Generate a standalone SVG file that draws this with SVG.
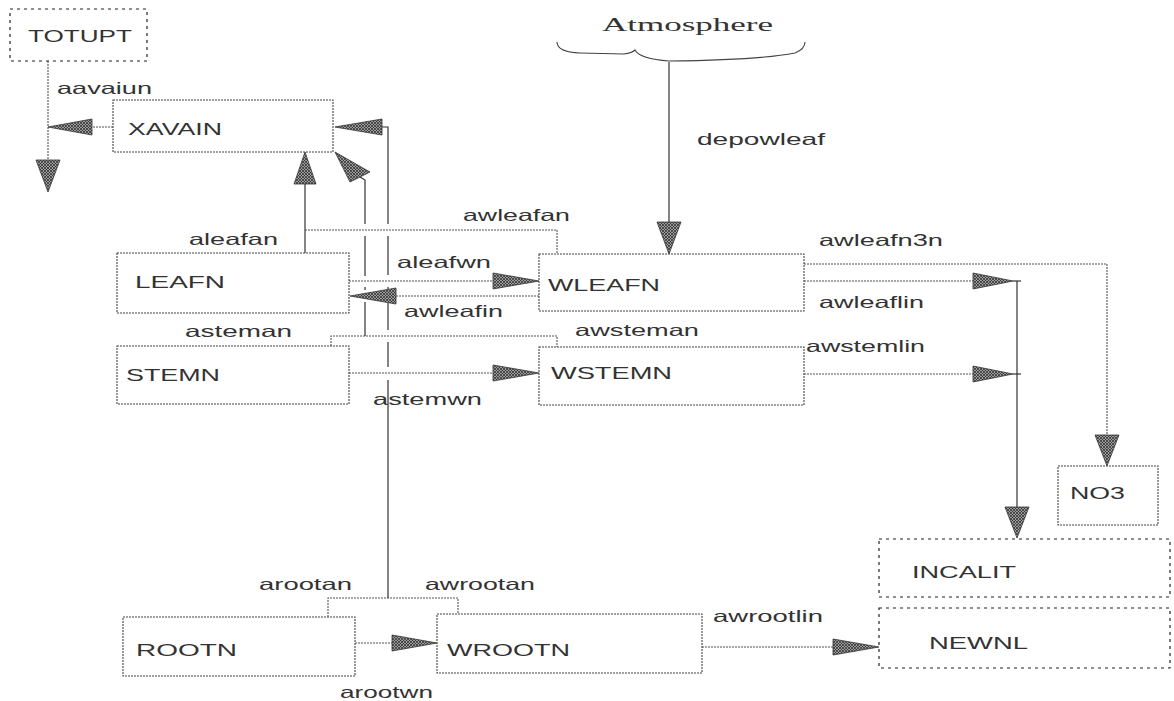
<svg xmlns="http://www.w3.org/2000/svg" width="1174" height="701" viewBox="0 0 1174 701">
<style>
text{font-family:"Liberation Sans",Arial,sans-serif;font-size:16.5px;fill:#333;}
text.serif{font-family:"Liberation Serif","Times New Roman",serif;font-size:18px;fill:#333;}
.box{fill:#fff;stroke:#444;stroke-width:1.1;stroke-dasharray:2 1;}
.dbox{fill:#fff;stroke:#222;stroke-width:1.2;stroke-dasharray:3 4;}
.ln{fill:none;stroke:#333;stroke-width:1.2;}
.dl{fill:none;stroke:#555;stroke-width:1.1;stroke-dasharray:2 1;}
.ah{fill:url(#hatch);stroke:#333;stroke-width:0.8;}
.cloud{fill:none;stroke:#444;stroke-width:1.1;}
</style>
<defs>
<pattern id="hatch" width="3" height="3" patternUnits="userSpaceOnUse">
<rect width="3" height="3" fill="#9a9a9a"/>
<path d="M0,3 L3,0 M0,0 L3,3" stroke="#2a2a2a" stroke-width="0.7"/>
</pattern>
</defs>

<g id="connectors">
<!-- TOTUPT down -->
<line class="dl" x1="48" y1="61" x2="48" y2="160"/>
<polygon class="ah" points="36,160 60,160 48,192"/>
<!-- XAVAIN -> left (aavaiun) -->
<line class="dl" x1="113" y1="127" x2="92" y2="127"/>
<polygon class="ah" points="92,119 92,135 48,127"/>
<!-- aleafan / awleafan -->
<line class="ln" x1="305" y1="253" x2="305" y2="184"/>
<polygon class="ah" points="294,184 316,184 305,152"/>
<path class="dl" d="M305,230 H557 V254"/>
<!-- asteman / awsteman -->
<path class="dl" d="M331,346 V336 H557 V347"/>
<path class="ln" d="M365,336 V302 M365,290 V287 M365,276 V236 M365,224 V180 L360,177"/>
<polygon class="ah" points="335,152 350,182 370,172"/>
<!-- arootan / awrootan -->
<path class="dl" d="M328,617 V598 H458 V614"/>
<path class="ln" d="M388,598 V380 M388,367 V342 M388,330 V303 M388,289 V287 M388,275 V236 M388,224 V127 H382"/>
<polygon class="ah" points="382,119 382,135 335,127"/>
<!-- aleafwn -->
<line class="dl" x1="349" y1="281" x2="493" y2="281"/>
<polygon class="ah" points="493,273 493,289 539,281"/>
<!-- awleafin -->
<line class="dl" x1="539" y1="296" x2="396" y2="296"/>
<polygon class="ah" points="396,288 396,304 350,296"/>
<!-- astemwn -->
<line class="dl" x1="349" y1="373" x2="493" y2="373"/>
<polygon class="ah" points="493,365 493,381 539,373"/>
<!-- depowleaf -->
<line class="ln" x1="669" y1="62" x2="669" y2="222"/>
<polygon class="ah" points="657,222 681,222 669,254"/>
<!-- awleafn3n -->
<path class="dl" d="M804,264 H1107 V435"/>
<polygon class="ah" points="1095,435 1119,435 1107,466"/>
<!-- awleaflin -->
<line class="dl" x1="804" y1="281" x2="973" y2="281"/>
<polygon class="ah" points="973,273 973,289 1013,281"/>
<line class="ln" x1="1013" y1="281" x2="1021" y2="281"/>
<!-- awstemlin -->
<line class="dl" x1="804" y1="374" x2="973" y2="374"/>
<polygon class="ah" points="973,366 973,382 1013,374"/>
<line class="ln" x1="1013" y1="374" x2="1021" y2="374"/>
<!-- litter collector -->
<line class="ln" x1="1017" y1="281" x2="1017" y2="507"/>
<polygon class="ah" points="1005,507 1029,507 1017,538"/>
<!-- arootwn -->
<line class="dl" x1="355" y1="643" x2="392" y2="643"/>
<polygon class="ah" points="392,635 392,651 437,643"/>
<!-- awrootlin -->
<line class="dl" x1="702" y1="647" x2="833" y2="647"/>
<polygon class="ah" points="833,639 833,655 879,647"/>
</g>

<g id="labels">
<text x="57" y="94" textLength="95" lengthAdjust="spacingAndGlyphs">aavaiun</text>
<text x="189" y="245" textLength="89" lengthAdjust="spacingAndGlyphs">aleafan</text>
<text x="463" y="221" textLength="107" lengthAdjust="spacingAndGlyphs">awleafan</text>
<text x="397" y="268" textLength="94" lengthAdjust="spacingAndGlyphs">aleafwn</text>
<text x="404" y="317" textLength="99" lengthAdjust="spacingAndGlyphs">awleafin</text>
<text x="185" y="337" textLength="107" lengthAdjust="spacingAndGlyphs">asteman</text>
<text x="575" y="336" textLength="124" lengthAdjust="spacingAndGlyphs">awsteman</text>
<text x="373" y="405" textLength="109" lengthAdjust="spacingAndGlyphs">astemwn</text>
<text x="697" y="145" textLength="128" lengthAdjust="spacingAndGlyphs">depowleaf</text>
<text x="819" y="246" textLength="124" lengthAdjust="spacingAndGlyphs">awleafn3n</text>
<text x="819" y="308" textLength="105" lengthAdjust="spacingAndGlyphs">awleaflin</text>
<text x="806" y="352" textLength="119" lengthAdjust="spacingAndGlyphs">awstemlin</text>
<text x="259" y="590" textLength="93" lengthAdjust="spacingAndGlyphs">arootan</text>
<text x="425" y="590" textLength="110" lengthAdjust="spacingAndGlyphs">awrootan</text>
<text x="340" y="698" textLength="93" lengthAdjust="spacingAndGlyphs">arootwn</text>
<text x="713" y="622" textLength="110" lengthAdjust="spacingAndGlyphs">awrootlin</text>
</g>

<g id="Atmosphere">
<path class="cloud" d="M557,42 Q557,52 580,53 L624,54 Q632,53 635,50 Q640,59 669,61 Q760,60 795,53 Q805,49 805,42"/>
<text class="serif" x="602" y="31" textLength="171" lengthAdjust="spacingAndGlyphs">Atmosphere</text>
</g>

<g id="TOTUPT">
<rect class="dbox" x="10" y="9" width="137" height="52"/>
<text x="28" y="42" textLength="104" lengthAdjust="spacingAndGlyphs">TOTUPT</text>
</g>

<g id="XAVAIN">
<rect class="box" x="113" y="100" width="220" height="52"/>
<text x="128" y="135" textLength="94" lengthAdjust="spacingAndGlyphs">XAVAIN</text>
</g>

<g id="LEAFN">
<rect class="box" x="117" y="253" width="232" height="60"/>
<text x="135" y="288" textLength="90" lengthAdjust="spacingAndGlyphs">LEAFN</text>
</g>

<g id="STEMN">
<rect class="box" x="117" y="346" width="232" height="58"/>
<text x="126" y="381" textLength="94" lengthAdjust="spacingAndGlyphs">STEMN</text>
</g>

<g id="WLEAFN">
<rect class="box" x="539" y="254" width="265" height="57"/>
<text x="548" y="291" textLength="112" lengthAdjust="spacingAndGlyphs">WLEAFN</text>
</g>

<g id="WSTEMN">
<rect class="box" x="539" y="347" width="265" height="58"/>
<text x="551" y="379" textLength="121" lengthAdjust="spacingAndGlyphs">WSTEMN</text>
</g>

<g id="NO3">
<rect class="box" x="1058" y="466" width="100" height="59"/>
<text x="1070" y="499" textLength="55" lengthAdjust="spacingAndGlyphs">NO3</text>
</g>

<g id="INCALIT">
<rect class="dbox" x="879" y="539" width="291" height="58"/>
<text x="912" y="578" textLength="104" lengthAdjust="spacingAndGlyphs">INCALIT</text>
</g>

<g id="NEWNL">
<rect class="dbox" x="879" y="608" width="291" height="60"/>
<text x="929" y="649" textLength="99" lengthAdjust="spacingAndGlyphs">NEWNL</text>
</g>

<g id="ROOTN">
<rect class="box" x="123" y="617" width="232" height="59"/>
<text x="136" y="656" textLength="101" lengthAdjust="spacingAndGlyphs">ROOTN</text>
</g>

<g id="WROOTN">
<rect class="box" x="437" y="614" width="265" height="59"/>
<text x="447" y="656" textLength="123" lengthAdjust="spacingAndGlyphs">WROOTN</text>
</g>
</svg>
